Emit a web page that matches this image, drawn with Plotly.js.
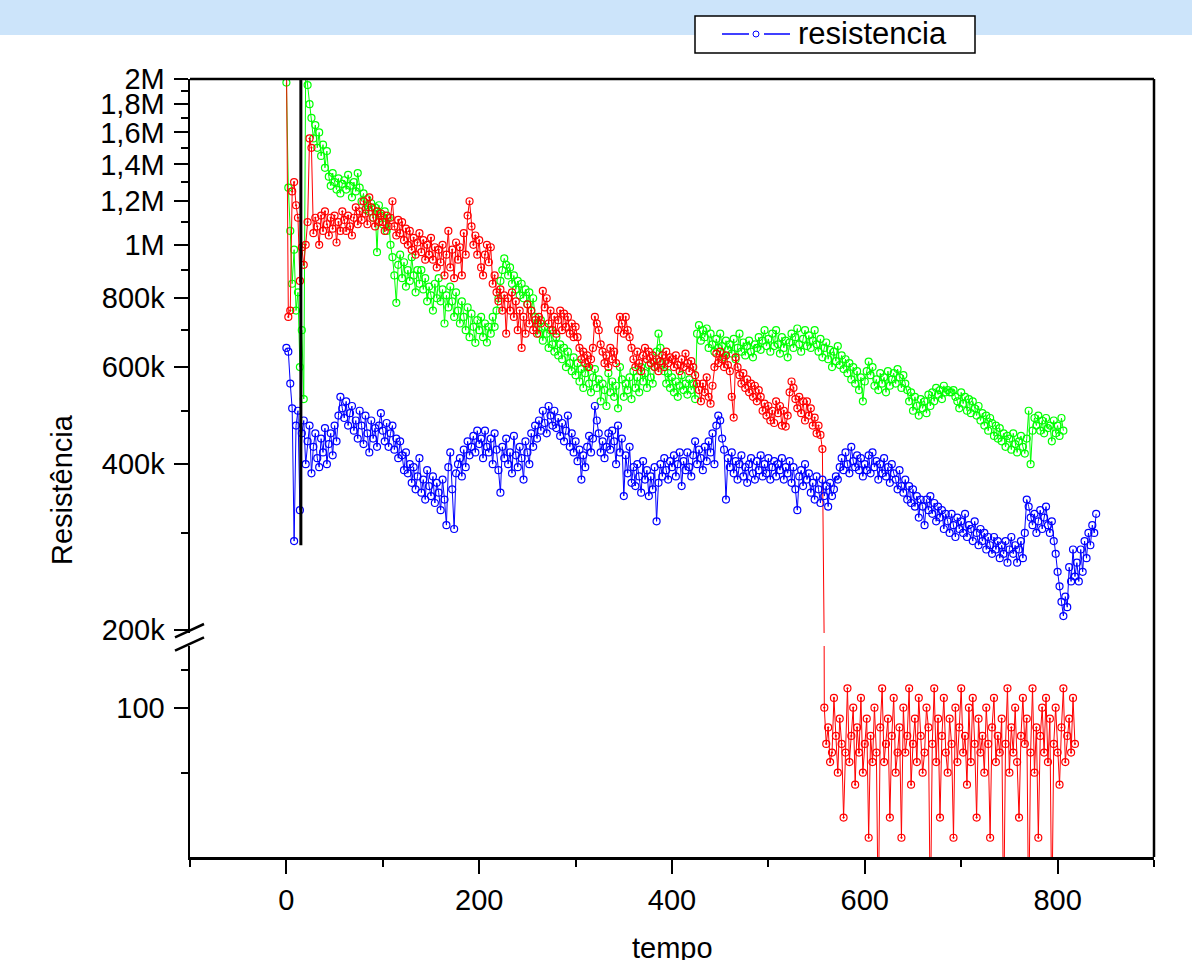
<!DOCTYPE html>
<html>
<head>
<meta charset="utf-8">
<script src="https://cdn.plot.ly/plotly-3.0.1.min.js"></script>
<style>
html,body{margin:0;padding:0;background:#ffffff;}
#grafico{width:1192px;height:960px;}
</style>
</head>
<body>
<div id="grafico"></div>
<script>
// ---- DATA ----
// sampling interval of all series (tempo units)
const passo = 2;

// blue series (kΩ), tempo 0 .. 840
const azulK = [
  650,640,560,505,290,470,500,330,455,480,
  400,440,470,385,430,455,410,395,445,420,
  465,400,435,455,415,470,440,490,530,505,
  485,520,470,495,510,460,480,445,500,470,
  435,490,455,420,480,445,465,430,470,495,
  460,440,475,430,455,470,425,445,410,440,
  415,390,420,385,400,370,395,360,380,410,
  355,375,345,390,365,350,380,340,370,355,
  330,375,345,310,395,420,360,305,385,400,
  410,380,425,395,440,415,430,450,420,460,
  435,445,410,460,430,420,445,400,455,425,
  390,355,430,410,445,400,420,385,450,415,
  395,430,410,375,440,420,400,455,430,470,
  445,480,460,500,475,455,510,490,470,500,
  465,485,450,475,440,460,490,430,455,420,
  440,405,425,375,415,395,430,450,420,445,
  510,480,455,420,440,410,430,455,425,460,
  440,400,470,420,445,350,415,385,430,370,
  395,365,400,380,355,405,375,390,350,380,
  360,395,315,370,400,380,410,390,375,405,
  395,415,380,400,420,365,405,390,420,395,
  380,415,440,400,425,410,390,430,405,440,
  420,455,400,470,490,480,445,425,345,410,
  395,420,385,405,375,400,415,380,395,370,
  400,410,385,375,405,390,415,380,400,385,
  410,375,395,405,380,400,390,410,375,395,
  385,405,370,395,360,330,380,390,365,400,
  375,385,355,370,345,380,360,340,375,350,
  365,335,370,350,360,380,375,395,410,390,
  420,400,385,430,405,395,415,390,410,380,
  400,390,415,385,420,395,405,375,400,385,
  410,380,395,370,400,385,375,360,390,365,
  355,375,345,365,340,360,335,350,320,345,
  335,310,345,330,350,325,340,315,335,320,
  330,305,325,315,300,325,310,295,320,305,
  315,300,325,295,310,305,290,315,300,285,
  305,290,300,280,295,285,275,295,280,290,
  270,285,275,290,265,280,295,275,285,265,
  280,290,270,300,345,335,320,310,325,300,
  315,330,305,320,335,310,300,315,290,275,
  255,240,225,212,230,220,260,245,280,250,
  265,245,280,255,290,270,300,285,310,300,
  325
];

// green series (kΩ), tempo 0 .. 806
const verdeK = [
  1970,1270,1060,850,980,760,820,600,700,525,
  2100,1950,1800,1700,1560,1650,1500,1600,1450,1520,
  1380,1480,1330,1280,1350,1300,1260,1320,1240,1290,
  1310,1260,1340,1280,1220,1300,1250,1350,1270,1200,
  1240,1160,1210,1150,1190,1120,1170,970,1180,1130,
  1090,1150,1060,1120,1000,950,880,785,920,960,
  870,930,840,900,860,950,880,820,900,850,
  900,830,870,790,840,810,760,850,800,870,
  790,830,720,810,770,840,790,740,820,760,
  720,790,740,700,770,680,750,710,664,730,
  700,740,680,720,665,710,690,740,710,760,
  800,860,900,945,920,880,910,850,880,830,
  860,810,850,800,830,780,820,760,800,740,
  720,690,730,670,710,690,650,700,660,640,
  680,630,660,620,650,600,640,610,590,625,
  580,610,565,595,550,585,600,560,540,575,
  595,550,570,520,560,545,510,585,540,565,
  530,555,505,600,570,530,560,545,575,525,
  590,550,575,540,600,565,585,550,605,575,
  560,600,640,690,650,610,590,560,585,550,
  575,540,565,530,555,580,545,560,535,570,
  545,560,525,690,715,670,700,680,705,650,
  690,660,640,675,650,690,655,625,670,645,
  660,635,675,620,650,690,640,665,630,655,
  670,640,625,660,650,680,645,670,700,655,
  675,640,690,655,700,660,635,680,650,670,
  625,665,690,650,680,705,660,640,675,700,
  655,685,650,670,700,660,640,675,625,650,
  665,620,645,600,640,615,655,605,630,595,
  620,585,610,570,600,560,590,545,575,520,
  565,590,614,580,600,555,570,545,585,560,
  575,540,590,555,570,585,560,595,575,550,
  580,560,545,520,540,500,530,510,490,525,
  505,520,495,535,510,540,520,550,535,545,
  525,555,540,545,540,540,545,530,520,505,
  540,515,530,500,525,495,520,505,490,510,
  480,495,470,490,460,485,475,450,470,445,
  465,440,455,430,450,445,425,455,435,420,
  440,450,430,418,445,500,400,460,485,470,
  490,460,480,455,485,465,470,440,480,455,
  470,450,485,460
];

// red series, high part (kΩ), tempo 0 .. 556
const vermelhoAltoK = [
  2300,740,760,1250,1300,1180,1120,860,990,920,
  1000,1100,1560,1500,1050,1120,1080,1000,1130,1060,
  1150,1090,1040,1120,1070,1130,1010,1100,1060,1150,
  1110,1060,1130,1080,1040,1120,1170,1090,1150,1110,
  1200,1140,1090,1220,1170,1120,1080,1150,1100,1140,
  1100,1060,1130,1080,1120,1200,1080,1040,1110,1050,
  1100,1020,1070,1000,1060,980,1030,960,1010,1050,
  970,1020,940,1000,960,1030,940,990,910,980,
  930,1000,880,960,1060,910,980,870,1010,940,
  990,880,1050,960,1130,1200,1080,1000,1040,960,
  1020,910,880,960,1000,930,990,850,880,820,
  790,830,760,810,690,800,760,820,740,790,
  700,760,650,740,690,780,720,760,700,730,
  690,740,720,825,770,800,720,760,700,740,
  690,730,760,700,750,710,740,690,720,680,
  710,680,650,620,640,610,630,600,620,650,
  740,720,700,660,640,610,630,600,650,620,
  640,610,700,740,720,690,740,700,680,650,
  620,600,640,610,590,630,650,620,640,610,
  630,600,620,590,615,630,600,640,610,625,
  620,600,630,605,590,620,600,635,610,590,
  615,600,580,560,545,520,560,540,575,530,
  515,555,600,635,610,640,620,600,630,605,
  590,530,486,625,600,580,560,585,550,570,
  540,560,530,555,520,545,530,500,515,490,
  510,480,500,475,520,495,510,470,500,468,
  490,540,565,550,525,505,530,495,520,480,
  520,490,505,470,486,455,470,452,426
];

// red series, low part (Ω), tempo 558 .. 818 (10 = below the axis)
const vermelhoBaixo = [
  100,68,81,56,62,111,74,50,89,68,
  31,62,123,56,74,100,44,81,62,111,
  50,68,89,25,74,56,100,62,10,81,
  123,56,68,89,31,74,111,50,62,81,
  25,100,62,74,123,44,68,89,56,111,
  74,50,62,100,81,10,68,123,56,89,
  31,74,111,62,50,89,68,25,100,56,
  81,123,62,74,44,100,56,111,68,31,
  89,62,74,50,100,68,25,81,111,56,
  74,62,89,10,68,123,50,81,62,100,
  56,31,74,111,68,89,10,62,123,50,
  81,25,74,100,62,111,56,89,10,68,
  100,62,44,81,123,56,74,89,62,111,
  68
];

// black series (kΩ)
const pretoTempo = [15, 15];
const pretoK = [3000, 285];

// axis ticks
const xTicks = [0, 200, 400, 600, 800];
const xMinor = [-100, 100, 300, 500, 700, 900];
const yTicksAlto = [2e6, 1.8e6, 1.6e6, 1.4e6, 1.2e6, 1e6, 8e5, 6e5, 4e5, 2e5];
const yLabelsAlto = ['2M', '1,8M', '1,6M', '1,4M', '1,2M', '1M', '800k', '600k', '400k', '200k'];
const yMinorAlto = [1.9e6, 1.7e6, 1.5e6, 1.3e6, 1.1e6, 9e5, 7e5, 5e5, 3e5];
const yTicksBaixo = [100];
const yLabelsBaixo = ['100'];
const yMinorBaixo = [50, 150];

// ---- BUILD ----
const tempoDe = n => Array.from({length: n}, (_, i) => i * passo);
const kilo = v => v * 1000;

const verdeY = verdeK.map(kilo);
const azulY = azulK.map(kilo);
const vermelhoY = vermelhoAltoK.map(kilo).concat(vermelhoBaixo);

const FONT = 'Liberation Sans, Arial, Helvetica, sans-serif';
const W = 1192, H = 960;
const M = {l: 190, r: 38, t: 79, b: 103};
const PW = W - M.l - M.r, PH = H - M.t - M.b;
const px = X => (X - M.l) / PW;
const py = Y => (H - M.b - Y) / PH;

function serie(x, y, cor, simbolo, eixoY) {
  return {
    type: 'scatter', mode: 'lines+markers', x: x, y: y,
    xaxis: 'x', yaxis: eixoY, showlegend: false, hoverinfo: 'skip',
    line: {color: cor, width: 1},
    marker: {symbol: simbolo, size: 7, color: cor, line: {color: cor, width: 1.2}}
  };
}

const traces = [
  serie(tempoDe(verdeY.length), verdeY, '#00ff00', 'circle-open', 'y'),
  serie(tempoDe(vermelhoY.length), vermelhoY, '#ff0000', 'circle-open-dot', 'y'),
  serie(tempoDe(vermelhoY.length), vermelhoY, '#ff0000', 'circle-open-dot', 'y2'),
  serie(tempoDe(azulY.length), azulY, '#0000ff', 'circle-open', 'y'),
  {type: 'scatter', mode: 'lines', x: pretoTempo, y: pretoK.map(kilo), xaxis: 'x', yaxis: 'y',
   showlegend: false, hoverinfo: 'skip', line: {color: '#000000', width: 3}}
];

const tickFont = {family: FONT, size: 29, color: '#000'};
const eixoBase = {
  showline: true, linewidth: 2.5, linecolor: '#000', showgrid: false, zeroline: false,
  ticks: 'outside', ticklen: 14, tickwidth: 2, tickcolor: '#000', tickfont: tickFont,
  tickmode: 'array', fixedrange: true
};
const menor = vals => ({tickmode: 'array', tickvals: vals, ticks: 'outside', ticklen: 7, tickwidth: 2, tickcolor: '#000', showgrid: false});

const layout = {
  width: W, height: H, margin: M, autosize: false,
  paper_bgcolor: '#ffffff', plot_bgcolor: 'rgba(0,0,0,0)',
  showlegend: false,
  font: {family: FONT, size: 29, color: '#000'},
  xaxis: Object.assign({}, eixoBase, {
    domain: [0, 1], anchor: 'y2', range: [-100, 900],
    tickvals: xTicks, ticktext: xTicks.map(String), ticklabelstandoff: 2,
    minor: menor(xMinor)
  }),
  yaxis: Object.assign({}, eixoBase, {
    type: 'log', domain: [py(633), 1], range: [Math.log10(2e6) - (633 - 79) / 551, Math.log10(2e6)],
    anchor: 'x', tickvals: yTicksAlto, ticktext: yLabelsAlto, ticklabelstandoff: 3,
    minor: menor(yMinorAlto)
  }),
  yaxis2: Object.assign({}, eixoBase, {
    type: 'log', domain: [0, py(646)], range: [2 - (857 - 707.7) / 216, 2 + (707.7 - 646) / 216],
    anchor: 'x', tickvals: yTicksBaixo, ticktext: yLabelsBaixo, ticklabelstandoff: 3,
    minor: menor(yMinorBaixo)
  }),
  shapes: [
    // top band
    {type: 'rect', xref: 'paper', yref: 'paper', x0: px(-5), x1: px(W + 5), y0: py(35), y1: py(-5),
     fillcolor: '#cce4fa', line: {width: 0}, layer: 'below'},
    // frame top and right
    {type: 'line', xref: 'paper', yref: 'paper', x0: 0, x1: 1, y0: 1, y1: 1, line: {color: '#000', width: 2.5}},
    {type: 'line', xref: 'paper', yref: 'paper', x0: 1, x1: 1, y0: 0, y1: 1, line: {color: '#000', width: 2.5}},
    // axis break marks
    {type: 'line', xref: 'paper', yref: 'paper', x0: px(175), y0: py(637.3), x1: px(204), y1: py(624), line: {color: '#000', width: 2.5}},
    {type: 'line', xref: 'paper', yref: 'paper', x0: px(175), y0: py(650.7), x1: px(204), y1: py(637.3), line: {color: '#000', width: 2.5}},
    // legend box
    {type: 'rect', xref: 'paper', yref: 'paper', x0: px(695), x1: px(975), y0: py(53), y1: py(16),
     fillcolor: '#ffffff', line: {color: '#000', width: 1.5}},
    {type: 'line', xref: 'paper', yref: 'paper', x0: px(722), x1: px(749), y0: py(34), y1: py(34), line: {color: '#0000ff', width: 1.5}},
    {type: 'line', xref: 'paper', yref: 'paper', x0: px(764), x1: px(790), y0: py(34), y1: py(34), line: {color: '#0000ff', width: 1.5}},
    {type: 'circle', xref: 'paper', yref: 'paper', x0: px(753), x1: px(759), y0: py(37), y1: py(31),
     fillcolor: '#ffffff', line: {color: '#0000ff', width: 1}}
  ],
  annotations: [
    {text: 'resistencia', xref: 'paper', yref: 'paper', x: px(796), y: py(34), xanchor: 'left', yanchor: 'middle',
     showarrow: false, font: {family: FONT, size: 31, color: '#000'}},
    {text: 'Resistência', xref: 'paper', yref: 'paper', x: px(62), y: py(490), xanchor: 'center', yanchor: 'middle',
     textangle: -90, showarrow: false, font: {family: FONT, size: 29, color: '#000'}},
    {text: 'tempo', xref: 'paper', yref: 'paper', x: px(672), y: py(948), xanchor: 'center', yanchor: 'middle',
     showarrow: false, font: {family: FONT, size: 29, color: '#000'}}
  ]
};

Plotly.newPlot('grafico', traces, layout, {displayModeBar: false, staticPlot: true});
</script>
</body>
</html>
